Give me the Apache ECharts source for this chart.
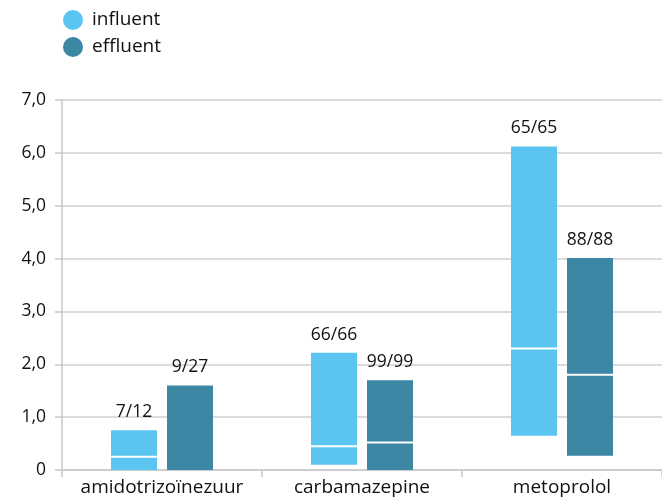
<!DOCTYPE html>
<html>
<head>
<meta charset="utf-8">
<script src="https://cdn.jsdelivr.net/npm/echarts@6/dist/echarts.min.js"></script>
<style>
html,body{margin:0;padding:0;background:#fff;}
#chart{width:662px;height:499px;}
</style>
</head>
<body>
<div id="chart"></div>
<script>
const categories = ['amidotrizoïnezuur', 'carbamazepine', 'metoprolol'];
const influentMin = [0, 0.10, 0.65];
const influentMedian = [0.25, 0.45, 2.30];
const influentMax = [0.75, 2.22, 6.12];
const influentLabels = ['7/12', '66/66', '65/65'];
const effluentMin = [0, 0, 0.27];
const effluentMedian = [null, 0.52, 1.80];
const effluentMax = [1.60, 1.70, 4.01];
const effluentLabels = ['9/27', '99/99', '88/88'];
const seriesNames = ['influent', 'effluent'];
const colors = ['#5bc5f2', '#3b87a4'];

const FONT = '"Open Sans", "Noto Sans", sans-serif';

function buildData(mins, meds, maxs) {
  return categories.map((c, i) => [i, mins[i], meds[i] == null ? NaN : meds[i], maxs[i]]);
}
const labelSets = [influentLabels, effluentLabels];

function renderItem(params, api) {
  const si = params.seriesIndex;
  const side = si === 0 ? -1 : 1;
  const i = api.value(0);
  const bw = 46;
  const cx = api.coord([i, 0])[0] + side * 28;
  const yMin = api.coord([i, api.value(1)])[1];
  const yMax = api.coord([i, api.value(3)])[1];
  const med = api.value(2);
  const children = [{
    type: 'rect',
    shape: {x: cx - bw / 2, y: yMax, width: bw, height: yMin - yMax},
    style: {fill: colors[si]}
  }];
  if (!isNaN(med)) {
    const yMed = api.coord([i, med])[1];
    children.push({
      type: 'rect',
      shape: {x: cx - bw / 2, y: yMed - 1, width: bw, height: 2},
      style: {fill: '#ffffff'}
    });
  }
  children.push({
    type: 'text',
    x: cx, y: yMax - 9,
    style: {
      text: labelSets[si][params.dataIndex],
      fill: '#111111',
      fontSize: 17.5,
      fontFamily: FONT,
      align: 'center',
      verticalAlign: 'bottom'
    }
  });
  return {type: 'group', children: children};
}

const chart = echarts.init(document.getElementById('chart'), null, {renderer: 'canvas'});
chart.setOption({
  animation: false,
  color: colors,
  textStyle: {fontFamily: FONT},
  legend: {
    data: seriesNames,
    orient: 'vertical',
    left: 58,
    top: 5,
    icon: 'circle',
    itemWidth: 20,
    itemHeight: 20,
    itemGap: 7,
    textStyle: {fontSize: 19, color: '#111111', fontFamily: FONT, padding: [0, 0, 0, 4]}
  },
  grid: {left: 62, top: 100, width: 604, bottom: 29, containLabel: false},
  xAxis: {
    type: 'category',
    data: categories,
    axisLine: {show: true, lineStyle: {color: '#c8c8c8', width: 1.5}},
    axisTick: {show: true, length: 7, alignWithLabel: false, lineStyle: {color: '#c8c8c8', width: 1.5}},
    axisLabel: {fontSize: 19, color: '#111111', margin: 8, fontFamily: FONT, interval: 0, hideOverlap: false},
    splitLine: {show: false}
  },
  yAxis: {
    type: 'value',
    min: 0, max: 7, interval: 1,
    axisLine: {show: true, lineStyle: {color: '#c8c8c8', width: 1.5}},
    axisTick: {show: true, length: 7, lineStyle: {color: '#c8c8c8', width: 1.5}},
    axisLabel: {
      fontSize: 17.5, color: '#111111', margin: 16, fontFamily: FONT,
      formatter: v => v === 0 ? '0' : v.toFixed(1).replace('.', ',')
    },
    splitLine: {show: true, lineStyle: {color: '#d0d0d0', width: 1.5}}
  },
  series: [
    {name: 'influent', type: 'custom', renderItem, itemStyle: {color: colors[0]},
     encode: {x: 0, y: [1, 3]}, data: buildData(influentMin, influentMedian, influentMax)},
    {name: 'effluent', type: 'custom', renderItem, itemStyle: {color: colors[1]},
     encode: {x: 0, y: [1, 3]}, data: buildData(effluentMin, effluentMedian, effluentMax)}
  ]
});
</script>
</body>
</html>
